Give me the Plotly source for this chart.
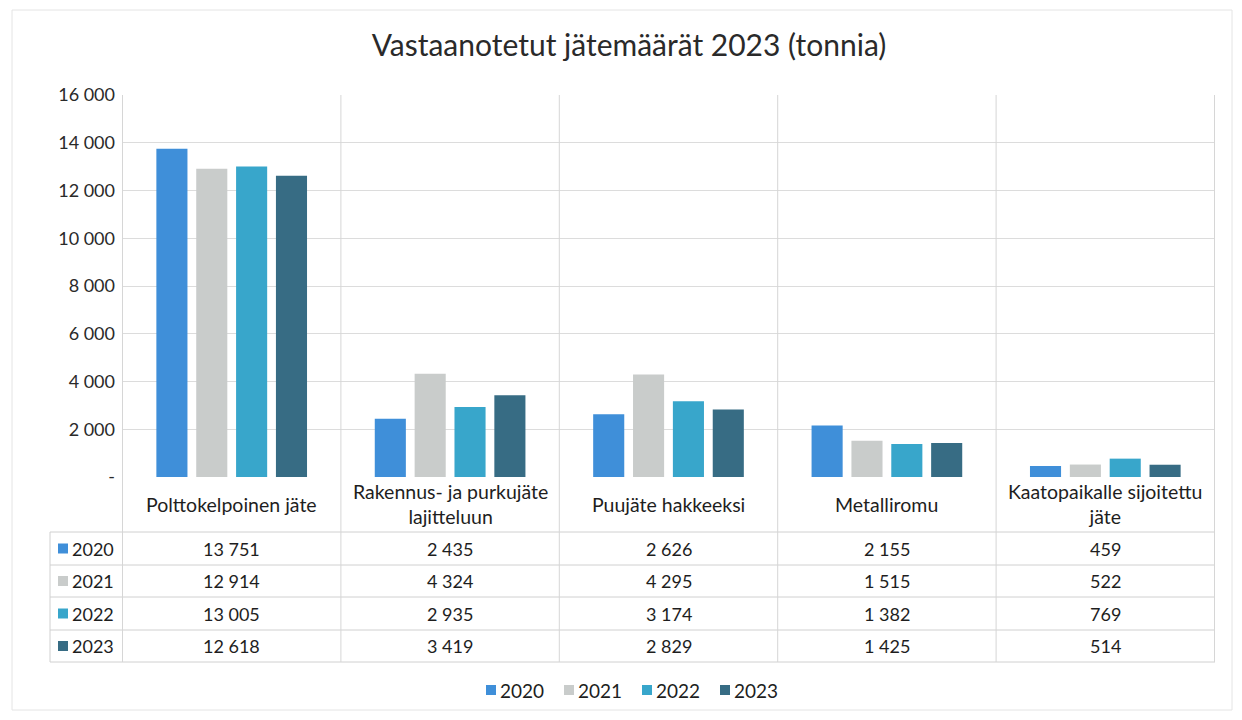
import plotly.graph_objects as go

categories = ["Polttokelpoinen jäte", "Rakennus- ja purkujäte lajitteluun",
              "Puujäte hakkeeksi", "Metalliromu", "Kaatopaikalle sijoitettu jäte"]
category_labels = ["Polttokelpoinen jäte", "Rakennus- ja purkujäte<br>lajitteluun",
                   "Puujäte hakkeeksi", "Metalliromu", "Kaatopaikalle sijoitettu<br>jäte"]
years = ["2020", "2021", "2022", "2023"]
v2020 = [13751, 2435, 2626, 2155, 459]
v2021 = [12914, 4324, 4295, 1515, 522]
v2022 = [13005, 2935, 3174, 1382, 769]
v2023 = [12618, 3419, 2829, 1425, 514]
series = [v2020, v2021, v2022, v2023]
colors = ["#3f8fd9", "#c9cccb", "#38a6cb", "#376c84"]
y_ticks = [0, 2000, 4000, 6000, 8000, 10000, 12000, 14000, 16000]

OFF = 8  # page body margin
W, H = 1242 - 2 * OFF, 720 - 2 * OFF
def px_x(p): return (p - OFF) / W
def px_y(p): return 1 - (p - OFF) / H

X0, X1 = px_x(122), px_x(1215)
Y_TOP, Y_BOT = px_y(95), px_y(477)
TABLE_LEFT = px_x(50)
row_lines = [532, 565, 597, 630, 662]
LEGEND_Y, LEGEND_X0, LEGEND_STEP = 690, 486, 78

def fmt(v):
    return f"{v:,}".replace(",", "\u00a0")

FONT = "Lato"
TXT = "#1e1e1e"
fig = go.Figure()
for yr, vals, c in zip(years, series, colors):
    fig.add_trace(go.Bar(x=categories, y=vals, name=yr, marker_color=c,
                         marker_line_width=0, showlegend=False))

shapes = []
annotations = []
for r in row_lines:
    shapes.append(dict(type="line", xref="paper", yref="paper", x0=TABLE_LEFT, x1=X1,
                       y0=px_y(r), y1=px_y(r), line=dict(color="#d0d0d0", width=1)))
for i in range(len(categories) + 1):
    shapes.append(dict(type="line", xref="x", yref="paper", x0=i - 0.5, x1=i - 0.5,
                       y0=px_y(row_lines[-1]), y1=Y_TOP, line=dict(color="#d6d6d6", width=1)))
shapes.append(dict(type="line", xref="paper", yref="paper", x0=TABLE_LEFT, x1=TABLE_LEFT,
                   y0=px_y(row_lines[-1]), y1=px_y(row_lines[0]), line=dict(color="#d0d0d0", width=1)))
shapes.append(dict(type="rect", xref="paper", yref="paper", x0=px_x(12), x1=px_x(1232),
                   y0=px_y(710), y1=px_y(10), line=dict(color="#e4e4e4", width=1)))

for cat, lab in zip(categories, category_labels):
    annotations.append(dict(x=cat, xref="x", y=px_y(504), yref="paper", text=lab,
                            xanchor="center", yanchor="middle",
                            showarrow=False, font=dict(family=FONT, size=19.5, color=TXT),
                            align="center"))
for ri, (yr, vals, c) in enumerate(zip(years, series, colors)):
    yc = (row_lines[ri] + row_lines[ri + 1]) / 2
    shapes.append(dict(type="rect", xref="paper", yref="paper",
                       x0=px_x(58), x1=px_x(68), y0=px_y(yc + 5), y1=px_y(yc - 5),
                       fillcolor=c, line=dict(width=0)))
    annotations.append(dict(x=px_x(70), xref="paper", y=px_y(yc), yref="paper", text=yr,
                            xanchor="left", yanchor="middle", showarrow=False,
                            font=dict(family=FONT, size=18, color=TXT)))
    for cat, v in zip(categories, vals):
        annotations.append(dict(x=cat, xref="x", y=px_y(yc), yref="paper", text=fmt(v),
                                xanchor="center", yanchor="middle",
                                showarrow=False, font=dict(family=FONT, size=18, color=TXT)))
    # bottom legend
    lx = LEGEND_X0 + LEGEND_STEP * ri
    shapes.append(dict(type="rect", xref="paper", yref="paper",
                       x0=px_x(lx), x1=px_x(lx + 10), y0=px_y(LEGEND_Y + 5), y1=px_y(LEGEND_Y - 5),
                       fillcolor=c, line=dict(width=0)))
    annotations.append(dict(x=px_x(lx + 12), xref="paper", y=px_y(LEGEND_Y), yref="paper",
                            text=yr, xanchor="left", yanchor="middle", showarrow=False,
                            font=dict(family=FONT, size=19, color=TXT)))

fig.update_layout(
    width=W, height=H,
    margin=dict(l=0, r=0, t=0, b=0, autoexpand=False),
    paper_bgcolor="white", plot_bgcolor="white",
    showlegend=False,
    title=dict(text="Vastaanotetut jätemäärät 2023 (tonnia)", x=px_x(629), xanchor="center",
               y=px_y(45), yanchor="middle",
               font=dict(family=FONT, size=30, color="#2a2a2a")),
    barmode="group", bargap=0.27, bargroupgap=0.22,
    xaxis=dict(domain=[X0, X1], showticklabels=False, showgrid=False, zeroline=False,
               showline=False),
    yaxis=dict(domain=[Y_BOT, Y_TOP], range=[0, 16000], tickvals=y_ticks,
               ticktext=["-" if t == 0 else fmt(t) for t in y_ticks],
               showgrid=True, gridcolor="#dcdcdc", gridwidth=1, zeroline=False,
               ticks="", tickfont=dict(family=FONT, size=18, color="#2a2a2a"),
               ticklabelstandoff=6),
    shapes=shapes, annotations=annotations,
)
fig.write_html("out.html")
